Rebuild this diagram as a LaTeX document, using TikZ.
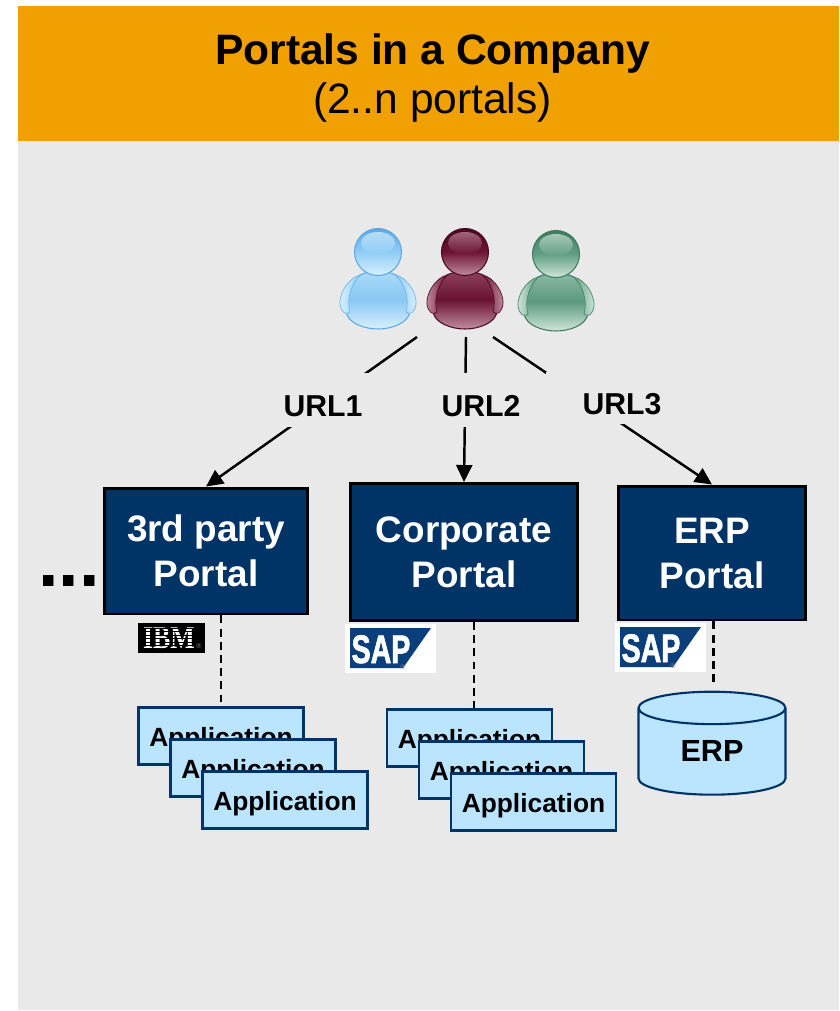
\documentclass[tikz,border=0pt]{standalone}
\usepackage{fontspec}
\setmainfont{Liberation Sans}
\newfontfamily\ibmfont{Liberation Serif}
\newfontfamily\sapfont{Liberation Sans}[BoldFeatures={FakeBold=2}]
\usetikzlibrary{arrows.meta,shapes.geometric}
\definecolor{headbar}{HTML}{F0A000}
\definecolor{panel}{HTML}{E9E9E9}
\definecolor{navy}{HTML}{003366}
\definecolor{paleblue}{HTML}{BBE5FF}
\definecolor{sapblue}{HTML}{0B3F7C}
\definecolor{bluerim}{HTML}{5AA8E6}
\definecolor{bluemid}{HTML}{90CDF6}
\definecolor{bluelight}{HTML}{D8F0FC}
\definecolor{maroonrim}{HTML}{4A0820}
\definecolor{maroonmid}{HTML}{6E1436}
\definecolor{maroonlight}{HTML}{C08CA2}
\definecolor{greenrim}{HTML}{3E7A5E}
\definecolor{greenmid}{HTML}{609E82}
\definecolor{greenlight}{HTML}{D0E6DA}
\newcommand{\drawuser}[4]{%
    \begin{scope}[shift={(#1)}]
        \path[draw=#2,line width=0.6pt,top color=#3!60!#4,bottom color=#4,middle color=#3!85!#2]
            (-18,23) .. controls (-8,18) and (8,18) .. (18,23) .. controls (26,30) and (32,48) .. (32,60) .. controls (30,71) and (14,77) .. (0,77) .. controls (-14,77) and (-30,71) .. (-32,60) .. controls (-32,48) and (-26,30) .. (-18,23) -- cycle;
        \path[draw=#2!60!#3,line width=0.4pt,left color=#4,right color=#3]
            (-18,23) .. controls (-30,26) and (-39,42) .. (-38,52) .. controls (-37,60) and (-32,64) .. (-28,60) .. controls (-32,45) and (-26,32) .. (-18,23) -- cycle;
        \path[draw=#2!60!#3,line width=0.4pt,left color=#3,right color=#4]
            (18,23) .. controls (30,26) and (39,42) .. (38,52) .. controls (37,60) and (32,64) .. (28,60) .. controls (32,45) and (26,32) .. (18,23) -- cycle;
        \path[draw=#2,line width=0.6pt,top color=#2,bottom color=#4,middle color=#3] (0,0) circle [radius=23.5*0.02cm];
        \path[top color=#4,bottom color=#3,opacity=0.7] (0,-9) ellipse [x radius=17*0.02cm,y radius=11*0.02cm];
    \end{scope}}
\newcommand{\saplogo}[2]{%
    \begin{scope}[shift={(#1)}]
        \fill[white] (0,0) rectangle (91,49);
        \fill[sapblue] (5,4) -- (86,4) -- (58,44) -- (5,44) -- cycle;
        \node[text=white,font=\sapfont\fontsize{22.6}{22.6}\selectfont\bfseries,inner sep=0,xscale=0.72,text height=0.54cm,text depth=0pt] (#2) at (36,25.5) {SAP};
        \node[text=gray,font=\fontsize{4}{4}\selectfont,inner sep=0] (#2r) at (58,43.5) {®};
    \end{scope}}
\tikzset{
    portal/.style={draw=black,line width=1.7pt,fill=navy,text=white,align=center,text depth=-4pt,font=\fontsize{21}{25.5}\selectfont\bfseries},
    app/.style={draw=navy,line width=1.2pt,fill=paleblue,minimum width=3.3cm,minimum height=1.14cm,text height=0.4cm,text depth=0pt,font=\fontsize{15}{18}\selectfont\bfseries},
    urllabel/.style={fill=panel,inner ysep=0,font=\fontsize{17.2}{20}\selectfont\bfseries},
    link/.style={line width=1.4pt,-{Triangle[length=0.34cm,width=0.32cm]}},
    stub/.style={line width=1.2pt,dash pattern=on 4.5pt off 3pt}
}
\begin{document}
\begin{tikzpicture}[x=0.02cm,y=-0.02cm]
    \useasboundingbox (0,0) rectangle (839,1011);
    \fill[white] (0,0) rectangle (839,1011);
    \fill[panel] (18,141) rectangle (839,1010);
    \fill[headbar] (18,6) rectangle (839,141);
    \node[font=\fontsize{24.2}{28.3}\selectfont,align=center] (title) at (432.5,78) {\textbf{Portals in a Company}\\(2..n portals)};

    \drawuser{378,252}{bluerim}{bluemid}{bluelight}
    \drawuser{465,252}{maroonrim}{maroonmid}{maroonlight}
    \drawuser{556,254}{greenrim}{greenmid}{greenlight}
    \coordinate (u1) at (417,337);
    \coordinate (u2) at (466,337);
    \coordinate (u3) at (493,337);

    \node[portal,minimum width=4.06cm,minimum height=2.52cm] at (206,551) (third) {3rd party\\Portal};
    \node[portal,minimum width=4.54cm,minimum height=2.74cm] at (464,552) (corp) {Corporate\\Portal};
    \node[portal,minimum width=3.74cm,minimum height=2.68cm] at (712,553) (erp) {ERP\\Portal};

    \draw[link] (u1) -- (third.north);
    \draw[link] (u2) -- (corp.north);
    \draw[link] (u3) -- (erp.north);
    \node[urllabel,inner xsep=0.2cm,text height=0.86cm,text depth=0.22cm] at (323,400) (url1) {URL1};
    \node[urllabel,inner xsep=0.1cm,text height=0.86cm,text depth=0.22cm] at (481,400) (url2) {URL2};
    \node[urllabel,inner xsep=0.74cm,text height=0.84cm,text depth=0.2cm] at (622,398) (url3) {URL3};

    \node[font=\fontsize{42}{42}\selectfont\bfseries,inner sep=0] at (69,581) (more) {...};

    \node[app] at (221,736) (a1) {Application};
    \node[app] at (253,768) (a2) {Application};
    \node[app] at (285,800) (a3) {Application};
    \node[app] at (469.5,738) (b1) {Application};
    \node[app] at (501.5,770) (b2) {Application};
    \node[app] at (533.5,802) (b3) {Application};
    \node[cylinder,shape border rotate=90,aspect=0.435,draw=navy,line width=1.2pt,fill=paleblue,minimum width=2.94cm,minimum height=2.06cm,text depth=4.5pt,font=\fontsize{17.4}{20}\selectfont\bfseries] at (712,755) (erpdb) {ERP};
    \coordinate (e1) at (713,685);
    \coordinate (c1) at (474,622);

    \draw[stub] (third.south -| a1.north) -- (a1.north);
    \draw[stub] (c1) -- (c1 |- b1.north);
    \draw[stub,line width=1.7pt] (e1 |- erp.south) -- (e1);

    \fill[black] (138,623) rectangle (205,653);
    \node[text=white,font=\ibmfont\fontsize{18}{18}\selectfont\bfseries,inner sep=0,xscale=0.82] at (169,638) (ibm) {IBM};
    \foreach \y in {628,631.5,...,650}
        \draw[black,line width=0.4pt] (140,\y) -- (199,\y);
    \node[text=gray,font=\fontsize{4}{4}\selectfont,inner sep=0] at (199,646) (ibmr) {®};
    \saplogo{345,624}{sapa}
    \saplogo{615,623}{sapb}
\end{tikzpicture}
\end{document}
